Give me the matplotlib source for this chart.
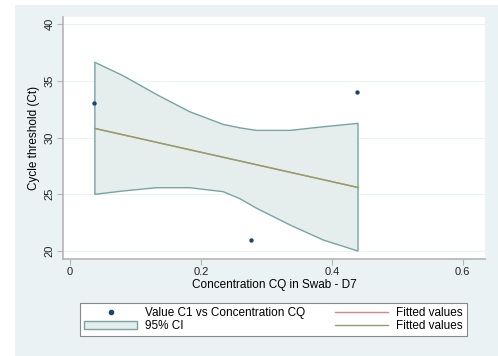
import matplotlib
matplotlib.use("Agg")
import matplotlib.pyplot as plt
from matplotlib.patches import Rectangle, Patch
from matplotlib.lines import Line2D

plt.rcParams['font.family'] = ['Liberation Sans', 'DejaVu Sans']

# observed values
conc = [0.036, 0.277, 0.439]
ct = [33.0, 21.0, 34.0]

# fitted line (end points) and 95% CI band
fit_x = [0.038, 0.44]
fit_y = [30.8, 25.6]
ci_x = [0.038, 0.081, 0.132, 0.183, 0.234, 0.26, 0.285, 0.336, 0.387, 0.44]
ci_hi = [36.63, 35.45, 33.8, 32.27, 31.16, 30.85, 30.63, 30.63, 30.95, 31.25]
ci_lo = [25.0, 25.29, 25.58, 25.58, 25.23, 24.6, 23.77, 22.3, 20.97, 20.0]

xticks = [0, 0.2, 0.4, 0.6]
xtick_labels = ['0', '0.2', '0.4', '0.6']
yticks = [20, 25, 30, 35, 40]

BG = '#eaf2f3'
NAVY = '#1a476f'
MAROON = '#d9868f'
GREEN = '#8fa06a'
CI_FILL = '#e6eded'
CI_EDGE = '#76a5a3'
AXIS = '#b5b5b5'

fig = plt.figure(figsize=(4.98, 3.56), dpi=100, facecolor='white')
fig.patches.append(Rectangle((15 / 498, 0), 1 - 15 / 498, 1 - 5 / 356,
                             transform=fig.transFigure, facecolor=BG,
                             edgecolor='none', zorder=-10))

ax = fig.add_axes([63 / 498, 97 / 356, 422 / 498, 242 / 356])
ax.set_facecolor('white')

# CI band as closed polygon
poly_x = ci_x + ci_x[::-1] + [ci_x[0]]
poly_y = ci_hi + ci_lo[::-1] + [ci_hi[0]]
ax.fill(poly_x, poly_y, facecolor=CI_FILL, edgecolor=CI_EDGE, linewidth=1.0,
        joinstyle='round', zorder=2)

ax.plot(fit_x, fit_y, color=MAROON, linewidth=1.0, zorder=3)
ax.plot(fit_x, fit_y, color=GREEN, linewidth=1.0, zorder=4)
ax.scatter(conc, ct, s=10, color=NAVY, marker='o', zorder=5, linewidths=0)

ax.set_xlim(-0.0107, 0.634)
ax.set_ylim(19.3, 40.62)
ax.set_xticks(xticks)
ax.set_xticklabels(xtick_labels)
ax.set_yticks(yticks)
ax.set_yticklabels([str(v) for v in yticks], rotation=90, va='center')
ax.grid(axis='y', color=BG, linewidth=0.8, zorder=1)
ax.set_axisbelow(True)

for side in ['top', 'right']:
    ax.spines[side].set_visible(False)
for side in ['left', 'bottom']:
    ax.spines[side].set_color(AXIS)
    ax.spines[side].set_linewidth(1.2)
ax.tick_params(labelsize=8, length=4, width=0.8, direction='out', pad=2)
ax.tick_params(axis='x', colors=AXIS, labelcolor='#222222')
ax.tick_params(axis='y', colors=AXIS, labelcolor='#222222')

ax.set_xlabel('Concentration CQ in Swab - D7', fontsize=8.5, labelpad=1)
ax.set_ylabel('Cycle threshold (Ct)', fontsize=8.5, labelpad=3)

handles = [
    Line2D([], [], marker='o', color=NAVY, linestyle='none', markersize=3),
    Patch(facecolor=CI_FILL, edgecolor=CI_EDGE, linewidth=1.0),
    Line2D([], [], color=MAROON, linewidth=1.0),
    Line2D([], [], color=GREEN, linewidth=1.0),
]
labels = ['Value C1 vs Concentration CQ', '95% CI', 'Fitted values', 'Fitted values']
leg = fig.legend(handles, labels, ncol=2, loc='center',
                 bbox_to_anchor=(273.5 / 498, 1 - 319.5 / 356),
                 fontsize=8.5, frameon=True, fancybox=False,
                 edgecolor='#888888', facecolor='white', framealpha=1,
                 handlelength=4.5, columnspacing=2.5, labelspacing=0.1,
                 borderpad=0.3, handletextpad=0.7)
leg.get_frame().set_linewidth(0.8)

fig.savefig('out.png', dpi=100, facecolor=fig.get_facecolor())
